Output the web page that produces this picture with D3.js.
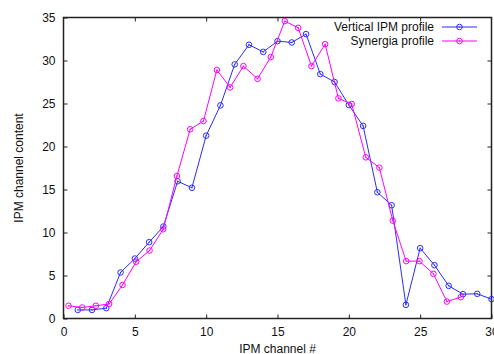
<!DOCTYPE html>
<html>
<head>
<meta charset="utf-8">
<script src="https://cdn.jsdelivr.net/npm/d3@7"></script>
<style>
  body { margin: 0; background: #fff; }
  svg { display: block; font-family: "Liberation Sans", Arial, sans-serif; }
</style>
</head>
<body>
<svg id="chart" width="494" height="354"></svg>
<script>
// Vertical IPM profile: channel numbers and contents
var ipmChannels = [1, 2, 3, 4, 5, 6, 7, 8, 9, 10, 11, 12, 13, 14, 15, 16, 17, 18, 19, 20,
    21, 22, 23, 24, 25, 26, 27, 28, 29, 30];
var ipmValues = [1.0, 1.0, 1.2, 5.35, 6.97, 8.87, 10.69, 15.96, 15.2, 21.26, 24.78, 29.55,
    31.83, 31.0, 32.25, 32.1, 33.07, 28.42, 27.5, 24.82, 22.4, 14.68, 13.17, 1.59, 8.18,
    6.2, 3.8, 2.83, 2.87, 2.25];

// Synergia profile
var synChannels = [0.35, 1.31, 2.27, 3.2, 4.14, 5.09, 6.03, 6.99, 7.95, 8.88, 9.81, 10.75,
    11.68, 12.61, 13.6, 14.53, 15.51, 16.45, 17.38, 18.34, 19.27, 20.2, 21.19, 22.14, 23.08,
    24.02, 24.95, 25.93, 26.87, 27.85];
var synValues = [1.48, 1.28, 1.48, 1.7, 3.9, 6.6, 7.9, 10.38, 16.57, 22.0, 22.96, 28.9,
    26.87, 29.35, 27.87, 30.4, 34.58, 33.8, 29.35, 31.9, 25.6, 24.94, 18.74, 17.54, 11.38,
    6.67, 6.67, 5.19, 1.97, 2.49];

var xTicks = [0, 5, 10, 15, 20, 25, 30];
var yTicks = [0, 5, 10, 15, 20, 25, 30, 35];
var seriesNames = ['Vertical IPM profile', 'Synergia profile'];

var blue = '#2b2bff';
var magenta = '#ff00ff';
var plotLeft = 63.5, plotRight = 491.5, plotTop = 17.5, plotBottom = 318.5;

var svg = d3.select('#chart');
var xScale = d3.scaleLinear().domain([0, 30]).range([plotLeft, plotRight]);
var yScale = d3.scaleLinear().domain([0, 35]).range([plotBottom, plotTop]);

var series = [
    { name: seriesNames[0], color: blue, data: ipmChannels.map(function(c, i) { return [c, ipmValues[i]]; }) },
    { name: seriesNames[1], color: magenta, data: synChannels.map(function(c, i) { return [c, synValues[i]]; }) }
];

/* Axes: gnuplot style, ticks inside and mirrored */
svg.append('g')
    .attr('transform', 'translate(0,' + plotBottom + ')')
    .call(d3.axisBottom(xScale).tickValues(xTicks).tickSizeInner(-4).tickSizeOuter(0).tickPadding(9));
svg.append('g')
    .attr('transform', 'translate(0,' + plotTop + ')')
    .call(d3.axisTop(xScale).tickValues(xTicks.slice(1, -1)).tickSizeInner(-4).tickSizeOuter(0).tickFormat(''));
svg.append('g')
    .attr('transform', 'translate(' + plotLeft + ',0)')
    .call(d3.axisLeft(yScale).tickValues(yTicks).tickSizeInner(-4).tickSizeOuter(0).tickPadding(8));
svg.append('g')
    .attr('transform', 'translate(' + plotRight + ',0)')
    .call(d3.axisRight(yScale).tickValues(yTicks.slice(1, -1)).tickSizeInner(-4).tickSizeOuter(0).tickFormat(''));

svg.selectAll('.domain').remove();
svg.selectAll('.tick line').attr('stroke', '#222').attr('stroke-width', 1);
svg.selectAll('.tick text').attr('font-size', 12).attr('fill', '#111');

svg.append('rect')
    .attr('x', plotLeft).attr('y', plotTop)
    .attr('width', plotRight - plotLeft).attr('height', plotBottom - plotTop)
    .attr('fill', 'none').attr('stroke', '#222').attr('stroke-width', 1.5);

/* Axis titles */
svg.append('text')
    .attr('x', (plotLeft + plotRight) / 2).attr('y', 353)
    .attr('text-anchor', 'middle').attr('font-size', 12).attr('fill', '#111')
    .text('IPM channel #');
svg.append('text')
    .attr('transform', 'translate(23,' + (plotTop + plotBottom) / 2 + ') rotate(-90)')
    .attr('text-anchor', 'middle').attr('font-size', 12).attr('fill', '#111')
    .text('IPM channel content');

/* Lines and markers */
var line = d3.line()
    .x(function(d) { return xScale(d[0]); })
    .y(function(d) { return yScale(d[1]); });

function drawMarker(g, x, y, color) {
    g.append('circle').attr('cx', x).attr('cy', y).attr('r', 2.8)
        .attr('fill', 'none').attr('stroke', color).attr('stroke-width', 1);
    g.append('circle').attr('cx', x).attr('cy', y).attr('r', 0.7)
        .attr('fill', color);
}

series.forEach(function(s) {
    var g = svg.append('g');
    g.append('path')
        .attr('d', line(s.data))
        .attr('fill', 'none').attr('stroke', s.color).attr('stroke-width', 1);
    s.data.forEach(function(d) {
        drawMarker(g, xScale(d[0]), yScale(d[1]), s.color);
    });
});

/* Legend */
series.forEach(function(s, i) {
    var y = 27 + i * 14;
    var g = svg.append('g');
    g.append('text')
        .attr('x', 434).attr('y', y + 4)
        .attr('text-anchor', 'end').attr('font-size', 12).attr('fill', '#111')
        .text(s.name);
    g.append('line')
        .attr('x1', 442).attr('x2', 477).attr('y1', y).attr('y2', y)
        .attr('stroke', s.color).attr('stroke-width', 1);
    drawMarker(g, 459.5, y, s.color);
});
</script>
</body>
</html>
